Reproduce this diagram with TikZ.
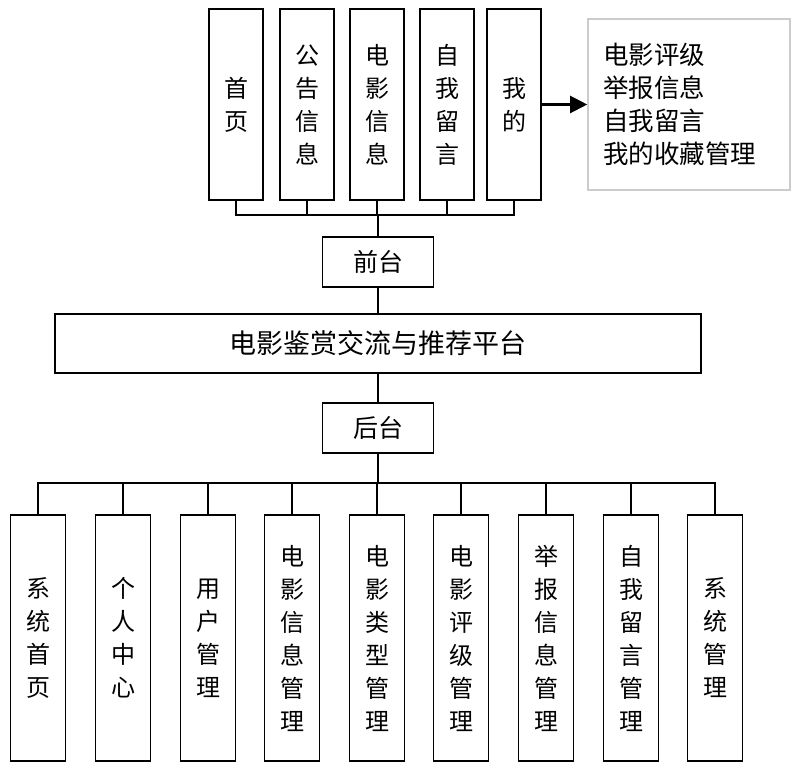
\documentclass[tikz,border=0pt]{standalone}
\usepackage{fontspec}
\setmainfont{Noto Sans CJK SC}
\usepackage{tikz}
\usetikzlibrary{arrows.meta}

\tikzset{
  colbox/.style={draw, line width=1.8pt, align=center, inner sep=0pt,
    font=\fontsize{24}{33}\selectfont},
  topbox/.style={colbox, minimum width=54pt, minimum height=191pt},
  botbox/.style={colbox, minimum width=55pt, minimum height=246pt},
  midbox/.style={draw, line width=1.8pt, inner sep=0pt, minimum height=50pt,
    minimum width=111pt, font=\fontsize{25}{30}\selectfont},
  wire/.style={line width=1.8pt},
  trunk/.style={line width=2.6pt}
}

\begin{document}
\begin{tikzpicture}[x=1pt, y=-1pt]
  \useasboundingbox (0,0) rectangle (796,769);

  % Front end
  \node[topbox] (qt1) at (236,104.5) {首\\页};
  \node[topbox] (qt2) at (307,104.5) {公\\告\\信\\息};
  \node[topbox] (qt3) at (377,104.5) {电\\影\\信\\息};
  \node[topbox] (qt4) at (447,104.5) {自\\我\\留\\言};
  \node[topbox] (qt5) at (514,104.5) {我\\的};

  \node[draw=gray!40, line width=1.6pt, minimum width=202pt, minimum height=171pt,
    inner xsep=15pt, text width=172pt, align=left,
    font=\fontsize{25.5}{33}\selectfont] (mine) at (689,104.5)
    {电影评级\\举报信息\\自我留言\\我的收藏管理};
  \draw[line width=2.2pt, -{Triangle[length=17pt, width=17pt]}] (qt5) -- (mine);

  \node[midbox] (qiantai) at (378,262) {前台};
  \coordinate (tbus) at (378,215);
  \foreach \i in {1,...,5}
    \draw[wire] (qt\i.south) |- (tbus);
  \draw[trunk] (qiantai.north) -- (tbus);

  % Platform
  \node[draw, line width=1.8pt, minimum width=646pt, minimum height=59pt,
    font=\fontsize{27}{30}\selectfont] (platform) at (378,343.5)
    {电影鉴赏交流与推荐平台};
  \draw[wire] (qiantai) -- (platform);

  % Back end
  \node[midbox] (houtai) at (378,428) {后台};
  \draw[wire] (platform) -- (houtai);
  \coordinate (bbus) at (378,483);
  \draw[trunk] (houtai.south) -- (bbus);

  \node[botbox] (ht1) at (38,638) {系\\统\\首\\页};
  \node[botbox] (ht2) at (123,638) {个\\人\\中\\心};
  \node[botbox] (ht3) at (208,638) {用\\户\\管\\理};
  \node[botbox] (ht4) at (292,638) {电\\影\\信\\息\\管\\理};
  \node[botbox] (ht5) at (377,638) {电\\影\\类\\型\\管\\理};
  \node[botbox] (ht6) at (461,638) {电\\影\\评\\级\\管\\理};
  \node[botbox] (ht7) at (546,638) {举\\报\\信\\息\\管\\理};
  \node[botbox] (ht8) at (631,638) {自\\我\\留\\言\\管\\理};
  \node[botbox] (ht9) at (715,638) {系\\统\\管\\理};
  \foreach \i in {1,...,9}
    \draw[wire] (ht\i.north) |- (bbus);
\end{tikzpicture}
\end{document}
